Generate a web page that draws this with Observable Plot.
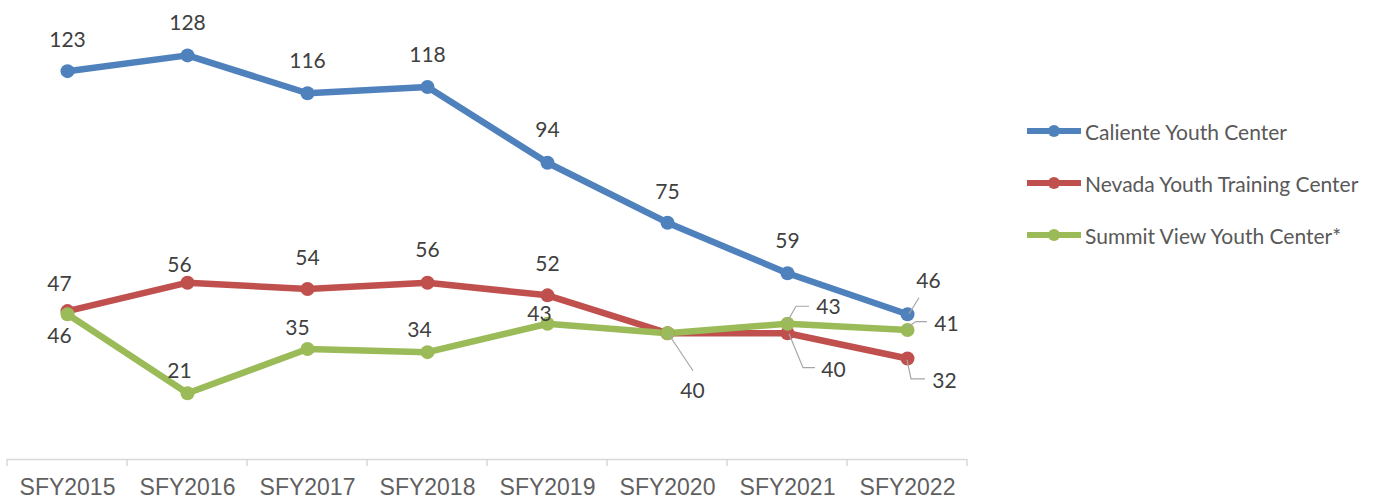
<!DOCTYPE html>
<html>
<head>
<meta charset="utf-8">
<script src="https://cdn.jsdelivr.net/npm/d3@7"></script>
<script src="https://cdn.jsdelivr.net/npm/@observablehq/plot@0.6"></script>
<style>
  html, body { margin: 0; padding: 0; background: #fff; }
  #wrap { position: relative; width: 1385px; height: 500px; }
  #legend { position: absolute; left: 1027px; top: 111px; font-family: Lato, "Noto Sans", sans-serif; font-size: 21px; color: #595959; }
  .item { display: flex; align-items: center; height: 40px; margin-bottom: 12px; }
  .item svg { margin-right: 4px; }
</style>
</head>
<body>
<div id="wrap"></div>
<script>
// ---- data ----
const years = ["SFY2015", "SFY2016", "SFY2017", "SFY2018", "SFY2019", "SFY2020", "SFY2021", "SFY2022"];
const seriesNames = ["Caliente Youth Center", "Nevada Youth Training Center", "Summit View Youth Center*"];
const caliente = [123, 128, 116, 118, 94, 75, 59, 46];
const nevada = [47, 56, 54, 56, 52, 40, 40, 32];
const summit = [46, 21, 35, 34, 43, 40, 43, 41];
const seriesValues = [caliente, nevada, summit];
const colors = ["#4F81BD", "#C0504D", "#9BBB59"];

// ---- label layout (pixel offsets from each point; null = no label) ----
const labelLayout = [
  [[0,-31],[0,-32],[0,-32],[0,-32],[0,-32],[0,-30],[0,-32],[21,-33]],
  [[-8,-27],[-8,-17],[0,-31],[0,-32],[0,-31],[25,58],[46,37],[37,23]],
  [[-8,22],[-8,-22],[-10,-21],[-8,-22],[-8,-9],null,[41,-16],[39,-6]]
];
const leaders = [
  {s: 0, i: 7, pts: [[2,0],[12,-16]]},
  {s: 1, i: 5, pts: [[2,2],[26,38]]},
  {s: 1, i: 6, pts: [[2,1],[16,35],[28,35]]},
  {s: 1, i: 7, pts: [[0,2],[4,21],[18,21]]},
  {s: 2, i: 6, pts: [[0,-1],[9,-17],[22,-17]]},
  {s: 2, i: 7, pts: [[0,-2],[9,-8],[20,-8]]}
];

const rows = seriesNames.flatMap((s, si) => years.map((y, i) => ({series: s, year: y, value: seriesValues[si][i], si, i})));
const labelMarks = rows
  .filter(d => labelLayout[d.si][d.i])
  .map(d => Plot.text([d], {
    x: "year", y: "value", text: d => String(d.value),
    dx: labelLayout[d.si][d.i][0], dy: labelLayout[d.si][d.i][1],
    fontSize: 21, fill: "#404040", fontFamily: "Lato, 'Noto Sans', sans-serif",
    textAnchor: "middle", lineAnchor: "middle"
  }));

const plot = Plot.plot({
  width: 1385, height: 500,
  marginLeft: 7, marginRight: 418, marginTop: 17, marginBottom: 41,
  style: {fontFamily: "'Liberation Sans', Arial, sans-serif", color: "#595959", background: "#fff"},
  x: {type: "point", domain: years, padding: 0.5, label: null},
  y: {domain: [0, 140], axis: null},
  color: {domain: seriesNames, range: colors},
  marks: [
    Plot.ruleY([0], {stroke: "#d9d9d9", strokeWidth: 1.5}),
    Plot.axisX({tickSize: 0, tickPadding: 19, fontSize: 23, label: null, fill: "#606060"}),
    Plot.line(rows, {x: "year", y: "value", z: "series", stroke: "series", strokeWidth: 6.5, strokeLinejoin: "round", strokeLinecap: "round"}),
    Plot.dot(rows, {x: "year", y: "value", fill: "series", r: 7}),
    ...labelMarks
  ]
});

document.getElementById("wrap").appendChild(plot);

// category boundary ticks and leader lines, positioned through the plot's scales
const xs = plot.scale("x"), ys = plot.scale("y");
const svg = d3.select(plot);
const step = xs.apply(years[1]) - xs.apply(years[0]);
const y0 = ys.apply(0);
const bounds = years.map(y => xs.apply(y) - step / 2).concat([xs.apply(years[years.length - 1]) + step / 2]);
svg.append("g").selectAll("line").data(bounds).join("line")
  .attr("x1", d => d).attr("x2", d => d).attr("y1", y0).attr("y2", y0 + 7)
  .attr("stroke", "#d9d9d9").attr("stroke-width", 1.5);

svg.append("g").selectAll("path").data(leaders).join("path")
  .attr("d", l => {
    const px = xs.apply(years[l.i]), py = ys.apply(seriesValues[l.s][l.i]);
    return "M" + l.pts.map(p => (px + p[0]) + "," + (py + p[1])).join("L");
  })
  .attr("fill", "none").attr("stroke", "#a6a6a6").attr("stroke-width", 1.2);

// legend
const legend = d3.select("#wrap").append("div").attr("id", "legend");
seriesNames.forEach((name, i) => {
  const item = legend.append("div").attr("class", "item");
  const sw = item.append("svg").attr("width", 54).attr("height", 14);
  sw.append("line").attr("x1", 1).attr("x2", 53).attr("y1", 7).attr("y2", 7)
    .attr("stroke", colors[i]).attr("stroke-width", 6).attr("stroke-linecap", "round");
  sw.append("circle").attr("cx", 27).attr("cy", 7).attr("r", 6).attr("fill", colors[i]);
  item.append("span").text(name);
});
</script>
</body>
</html>
